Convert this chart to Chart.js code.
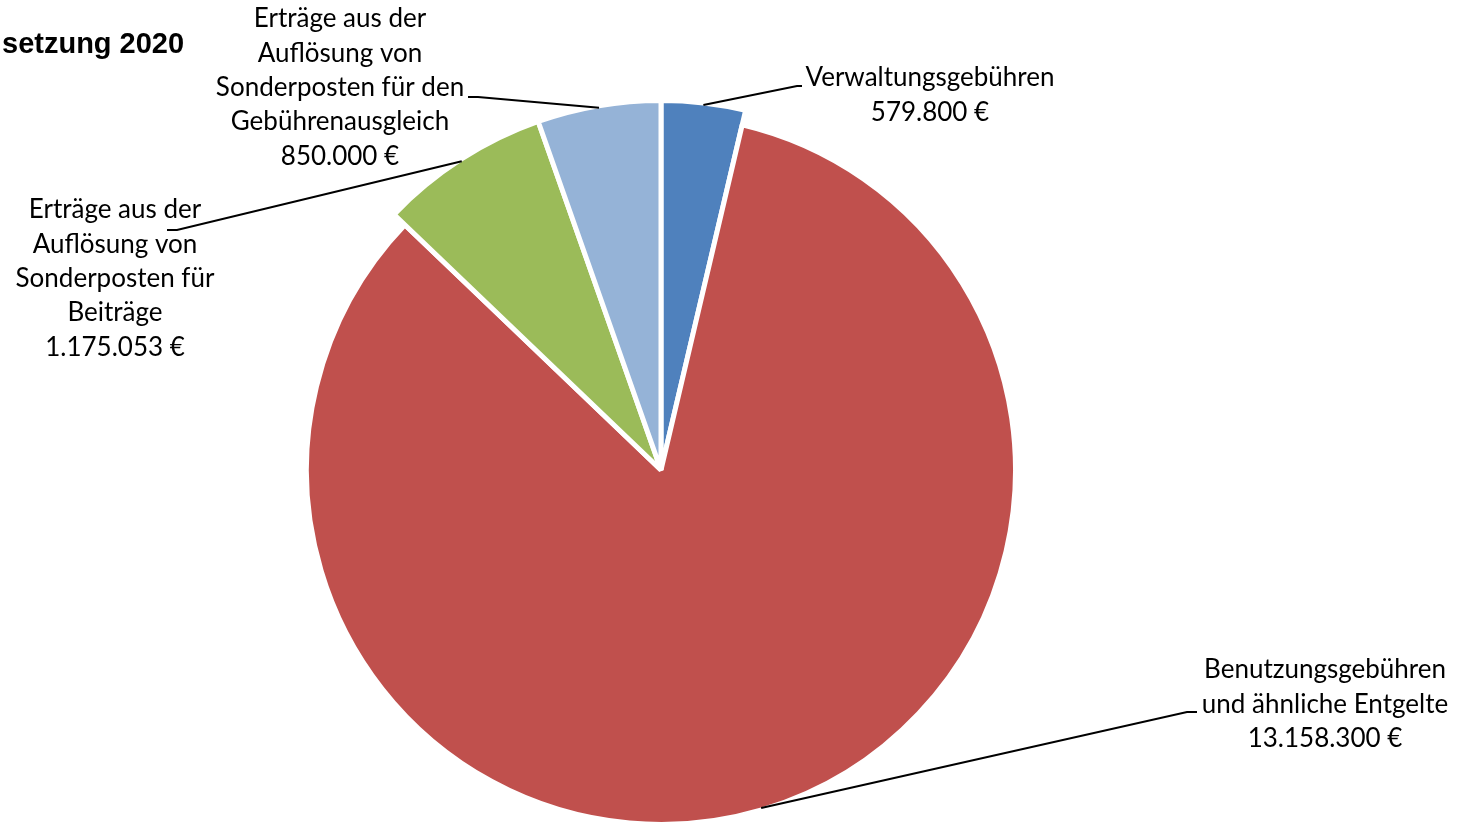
<!DOCTYPE html>
<html>
<head>
<meta charset="utf-8">
<script src="https://cdn.jsdelivr.net/npm/chart.js@4/dist/chart.umd.min.js"></script>
<style>
  html, body { margin: 0; padding: 0; background: #fff; }
  #wrap { width: 1459px; height: 825px; position: relative; }
</style>
</head>
<body>
<div id="wrap"><canvas id="pie"></canvas></div>
<script>
const labels = [
  ['Verwaltungsgebühren'],
  ['Benutzungsgebühren', 'und ähnliche Entgelte'],
  ['Erträge aus der', 'Auflösung von', 'Sonderposten für', 'Beiträge'],
  ['Erträge aus der', 'Auflösung von', 'Sonderposten für den', 'Gebührenausgleich']
];
const values = [579800, 13158300, 1175053, 850000];
const colors = ['#4F81BD', '#C0504D', '#9BBB59', '#95B3D7'];
const titleText = 'setzung 2020';

// label layout: text centre x, first line y, elbow point, end of horizontal stub
const labelLayout = [
  { cx: 930, y0: 78, elbow: [797, 86], stub: [802, 86] },
  { cx: 1325, y0: 670, elbow: [1187, 712], stub: [1197, 712] },
  { cx: 115, y0: 210, elbow: [177, 230], stub: [167, 230] },
  { cx: 340, y0: 19, elbow: [478, 97], stub: [468, 97] }
];

const fmt = v => String(v).replace(/\B(?=(\d{3})+(?!\d))/g, '.') + ' €';

const FONT = '26px Lato, "Noto Sans", sans-serif';
const LINE_H = 34.3;

// smaller slices stand out a bit beyond the big one
const bigSliceGrow = {
  id: 'bigSliceGrow',
  beforeDatasetsDraw(chart) {
    const meta = chart.getDatasetMeta(0);
    const maxV = Math.max(...values);
    meta.data.forEach((arc, i) => {
      if (values[i] !== maxV) arc.outerRadius = arc.$baseR + 15;
    });
  },
  afterDatasetsUpdate(chart) {
    chart.getDatasetMeta(0).data.forEach(arc => { arc.$baseR = arc.outerRadius; });
  }
};

const leaderLabels = {
  id: 'leaderLabels',
  afterDatasetsDraw(chart) {
    const ctx = chart.ctx;
    const meta = chart.getDatasetMeta(0);
    ctx.save();
    meta.data.forEach((arc, i) => {
      const mid = (arc.startAngle + arc.endAngle) / 2;
      const r = arc.outerRadius - 2;
      const px = arc.x + Math.cos(mid) * r;
      const py = arc.y + Math.sin(mid) * r;
      const L = labelLayout[i];
      ctx.strokeStyle = '#000';
      ctx.lineWidth = 2;
      ctx.beginPath();
      ctx.moveTo(px, py);
      ctx.lineTo(L.elbow[0], L.elbow[1]);
      ctx.lineTo(L.stub[0], L.stub[1]);
      ctx.stroke();

      const lines = labels[i].concat([fmt(values[i])]);
      ctx.fillStyle = '#000';
      ctx.font = FONT;
      ctx.textAlign = 'center';
      ctx.textBaseline = 'middle';
      lines.forEach((t, k) => ctx.fillText(t, L.cx, L.y0 + k * LINE_H));
    });

    ctx.font = 'bold 29px "Liberation Sans", Arial, sans-serif';
    ctx.textAlign = 'left';
    ctx.textBaseline = 'middle';
    ctx.fillText(titleText, 2, 45);
    ctx.restore();
  }
};

new Chart(document.getElementById('pie').getContext('2d'), {
  type: 'pie',
  data: {
    labels: labels.map(l => l.join(' ')),
    datasets: [{
      data: values,
      backgroundColor: colors,
      borderColor: '#ffffff',
      borderWidth: 5
    }]
  },
  options: {
    responsive: true,
    maintainAspectRatio: false,
    animation: false,
    radius: 354.5,
    layout: { padding: { left: 0, right: 137, top: 115, bottom: 0 } },
    plugins: {
      legend: { display: false },
      tooltip: { enabled: false }
    }
  },
  plugins: [bigSliceGrow, leaderLabels]
});
</script>
</body>
</html>
